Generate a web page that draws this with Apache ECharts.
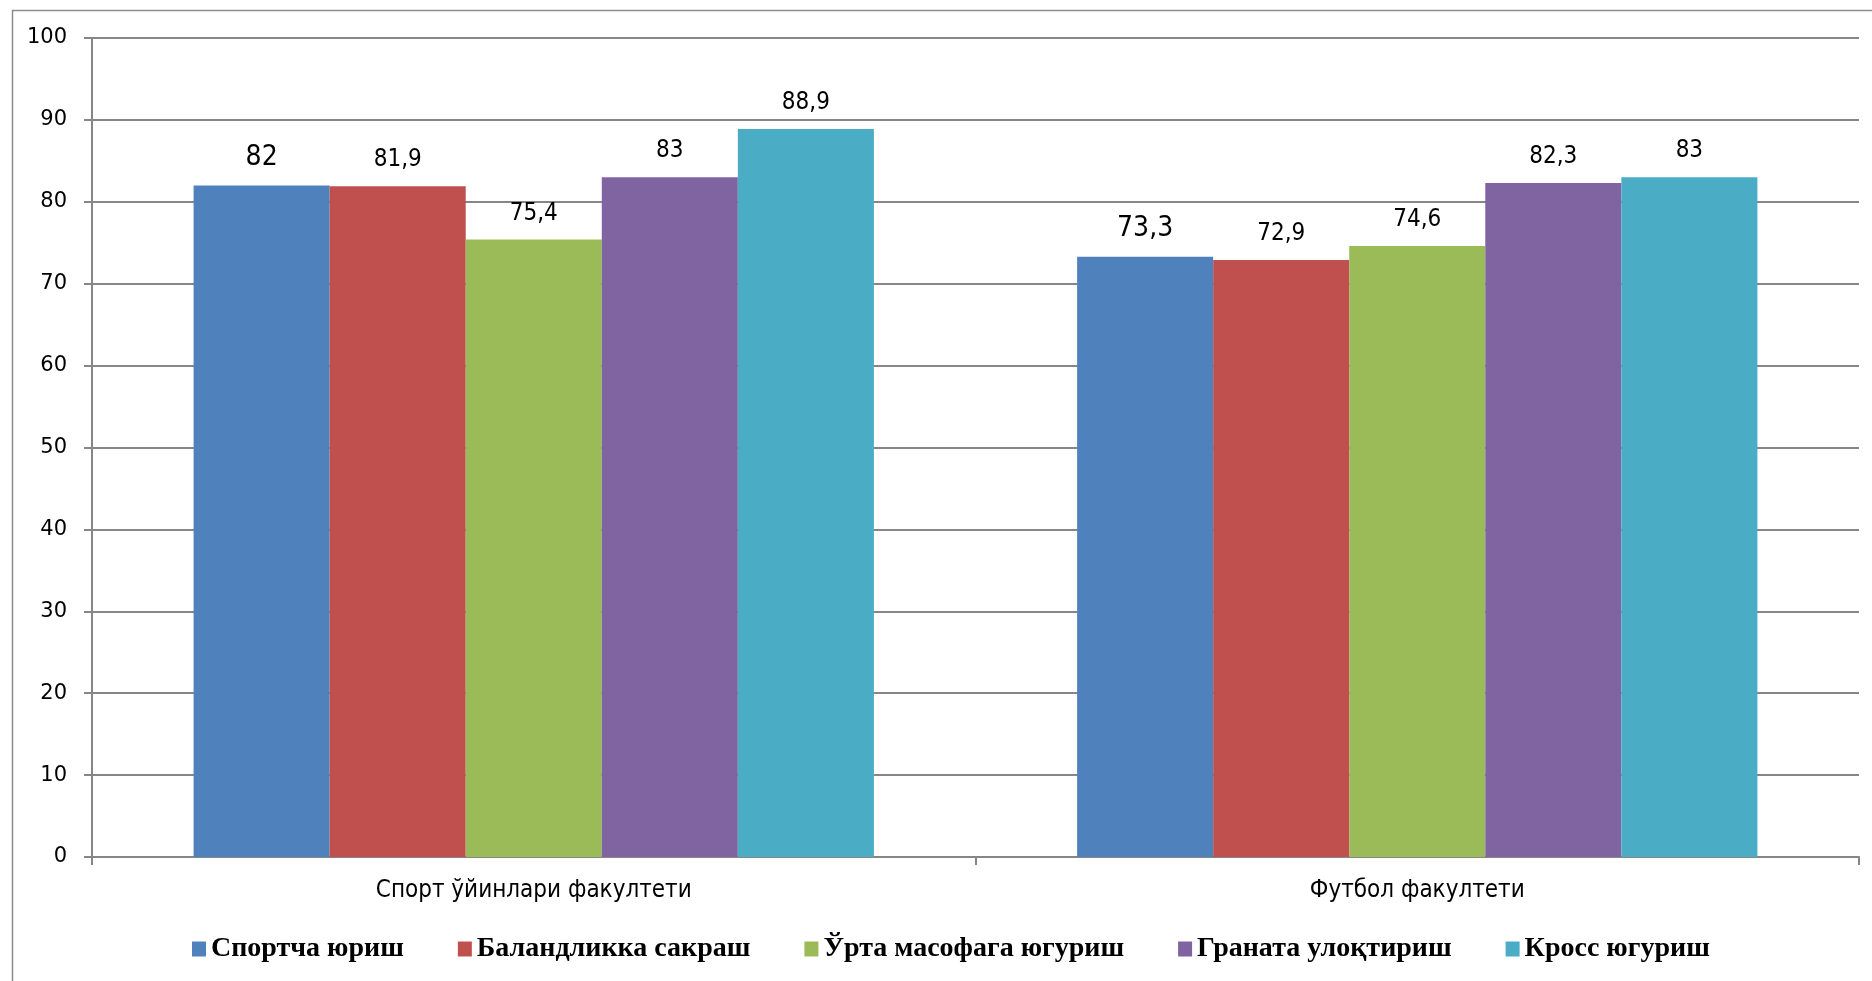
<!DOCTYPE html>
<html>
<head>
<meta charset="utf-8">
<script src="https://cdn.jsdelivr.net/npm/echarts@6/dist/echarts.min.js"></script>
<style>
html, body { margin: 0; padding: 0; background: #fff; }
#chart { width: 1872px; height: 981px; }
</style>
</head>
<body>
<div id="chart"></div>
<script type="text/javascript">
// faculties
var categories = ['Спорт ўйинлари факултети', 'Футбол факултети'];
// series names (legend)
var names = ['Спортча юриш', 'Баландликка сакраш', 'Ўрта масофага югуриш', 'Граната улоқтириш', 'Кросс югуриш'];
var sportchaYurish = [82, 73.3];
var balandlikka = [81.9, 72.9];
var urtaMasofa = [75.4, 74.6];
var granata = [83, 82.3];
var kross = [88.9, 83];
var yTicks = [0, 10, 20, 30, 40, 50, 60, 70, 80, 90, 100];

var colors = ['#4F81BD', '#C0504D', '#9BBB59', '#8064A2', '#4BACC6'];
var values = [sportchaYurish, balandlikka, urtaMasofa, granata, kross];

var myChart = echarts.init(document.getElementById('chart'));

var series = [];
for (var i = 0; i < names.length; i++) {
    series.push({
        name: names[i],
        type: 'bar',
        data: values[i],
        barGap: '0%',
        barCategoryGap: '23%',
        itemStyle: { color: colors[i] },
        label: {
            show: true,
            position: 'top',
            distance: 14,
            color: '#000',
            fontFamily: '"Liberation Sans Narrow", "DejaVu Sans Condensed", sans-serif',
            fontSize: i == 0 ? 28 : 24,
            formatter: function (p) { return String(p.value).replace('.', ','); }
        }
    });
}

var option = {
    animation: false,
    color: colors,
    graphic: [{
        type: 'rect',
        left: 10, top: 8,
        shape: { width: 1900, height: 1000 },
        style: { fill: 'none', stroke: '#8c8c8c', lineWidth: 1.5 },
        silent: true
    }],
    grid: { left: 92, right: 13, top: 38, bottom: 124 },
    legend: {
        left: 187,
        top: 930,
        itemWidth: 14,
        itemHeight: 15,
        itemGap: 54,
        icon: 'rect',
        textStyle: {
            fontFamily: '"Liberation Serif", "Times New Roman", serif',
            fontWeight: 'bold',
            fontSize: 28,
            color: '#000'
        },
        data: names
    },
    xAxis: {
        type: 'category',
        data: categories,
        axisLine: { lineStyle: { color: '#868686', width: 2 } },
        axisTick: { show: true, length: 8, lineStyle: { color: '#868686', width: 2 } },
        axisLabel: {
            margin: 22,
            color: '#000',
            fontFamily: '"DejaVu Sans Condensed", "DejaVu Sans", sans-serif',
            fontSize: 24
        }
    },
    yAxis: {
        type: 'value',
        min: yTicks[0],
        max: yTicks[yTicks.length - 1],
        interval: 10,
        axisLine: { show: true, lineStyle: { color: '#868686', width: 2 } },
        axisTick: { show: true, length: 8, lineStyle: { color: '#868686', width: 2 } },
        splitLine: { lineStyle: { color: '#868686', width: 2 } },
        axisLabel: {
            margin: 25,
            color: '#000',
            fontFamily: '"DejaVu Sans", sans-serif',
            fontSize: 21
        }
    },
    series: series
};
myChart.setOption(option);
</script>
</body>
</html>
